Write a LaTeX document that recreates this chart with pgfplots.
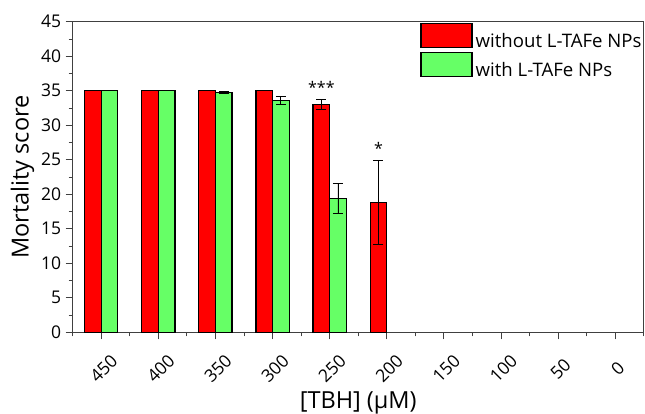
\documentclass[border=0pt]{standalone}
\usepackage{fontspec}
\setmainfont{Open Sans}
\usepackage{pgfplots}
\pgfplotsset{compat=1.18}
\definecolor{barred}{RGB}{255,0,0}
\definecolor{bargreen}{RGB}{102,255,102}
\begin{document}
\begin{tikzpicture}
\begin{axis}[
  scale only axis, width=571pt, height=310.6pt,
  xmin=-0.5, xmax=9.5, ymin=0, ymax=45,
  ytick={0,5,...,45}, minor ytick={2.5,7.5,...,42.5},
  xtick={0,...,9}, xticklabels={450,400,350,300,250,200,150,100,50,0},
  minor xtick={-0.5,0.5,...,9.5},
  tick align=outside, xtick pos=bottom, ytick pos=left,
  major tick length=7pt, minor tick length=4pt,
  axis line style={draw=black!75, line width=0.9pt},
  every tick/.style={draw=black!75, line width=0.9pt},
  /pgf/number format/assume math mode=true,
  yticklabel style={font=\fontsize{17.5}{20}\selectfont, xshift=-1pt},
  xticklabel style={font=\fontsize{17.5}{20}\selectfont, anchor=center, yshift=-29.5pt, xshift=2.5pt, rotate=45},
  ylabel={Mortality score}, xlabel={[TBH] (μM)},
  label style={font=\fontsize{23.5}{28}\selectfont},
  xlabel style={at={(axis description cs:0.5,0)}, anchor=base, yshift=-76pt},
  ybar, bar width=16.6pt,
  legend style={draw=none, fill=none, at={(1,1)}, anchor=north east, xshift=1pt, yshift=-1pt,
    font=\fontsize{18.6}{22}\selectfont, row sep=1pt, inner sep=0pt,
    nodes={inner xsep=3pt}},
  legend cell align=left,
  legend image code/.code={\draw[#1, line width=1.2pt] (0pt,-6.5pt) rectangle (51pt,17.5pt);},
  error bars/error bar style={line width=0.8pt, black},
  error bars/error mark options={rotate=90, mark size=5pt, line width=0.8pt, black},
]
\addplot[ybar, bar shift=-8.3pt, fill=barred, draw=black, line width=1.2pt,
  error bars/.cd, y dir=both, y explicit]
  coordinates {(0,35) +- (0,0) (1,35) +- (0,0) (2,35) +- (0,0) (3,35) +- (0,0) (4,33.0) +- (0,0.7) (5,18.8) +- (0,6.1)};
\addplot[ybar, bar shift=8.3pt, fill=bargreen, draw=black, line width=1.2pt,
  error bars/.cd, y dir=both, y explicit]
  coordinates {(0,35) +- (0,0) (1,35) +- (0,0) (2,34.8) +- (0,0.12) (3,33.6) +- (0,0.55) (4,19.35) +- (0,2.15)};
\legend{without L-TAFe NPs, with L-TAFe NPs}
\node[anchor=base, font=\fontsize{16}{19}\selectfont] at (axis cs:4,34.6) [xshift=-8.3pt] {***};
\node[anchor=base, font=\fontsize{16}{19}\selectfont] at (axis cs:5,25.75) [xshift=-8.3pt] {*};
\coordinate (bl) at (rel axis cs:0,0);
\end{axis}
\pgfresetboundingbox
\path ([shift={(-72.7pt,-81.7pt)}]bl) rectangle ++(645pt,414pt);
\end{tikzpicture}
\end{document}
